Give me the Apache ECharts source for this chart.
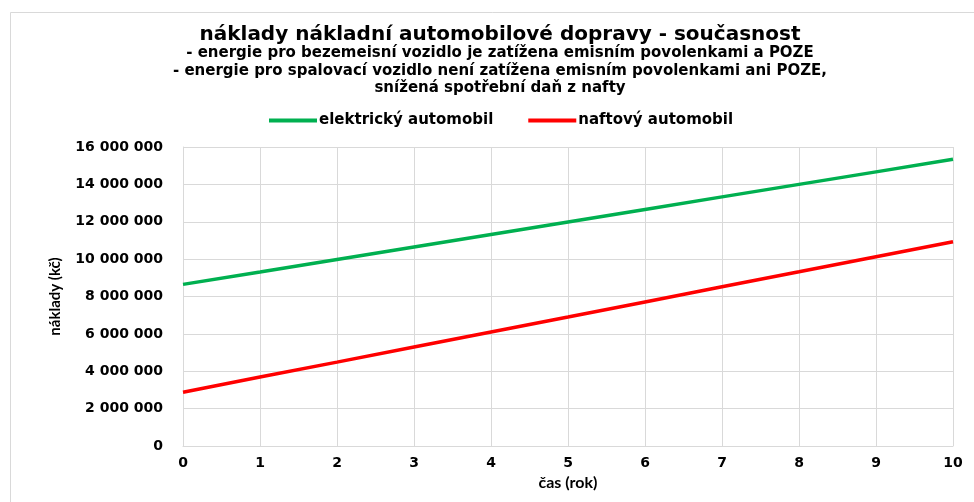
<!DOCTYPE html>
<html>
<head>
<meta charset="utf-8">
<script src="https://cdn.jsdelivr.net/npm/echarts@6/dist/echarts.min.js"></script>
<style>
html,body{margin:0;padding:0;background:#fff;}
#chart{width:974px;height:502px;}
</style>
</head>
<body>
<div id="chart"></div>
<script>
const years = [0, 1, 2, 3, 4, 5, 6, 7, 8, 9, 10];
const electric = [8650000, 9310000, 9980000, 10650000, 11320000, 11990000, 12660000, 13330000, 14000000, 14670000, 15340000];
const diesel = [2880000, 3690000, 4490000, 5300000, 6100000, 6900000, 7710000, 8520000, 9320000, 10130000, 10930000];
const seriesNames = ['elektrický automobil', 'naftový automobil'];
const titleLines = [
  'náklady nákladní automobilové dopravy - současnost',
  '- energie pro bezemeisní vozidlo je zatížena emisním povolenkami a POZE',
  '- energie pro spalovací vozidlo není zatížena emisním povolenkami ani POZE,',
  'snížená spotřební daň z nafty'
];
const xAxisName = 'čas (rok)';
const yAxisName = 'náklady (kč)';

const chart = echarts.init(document.getElementById('chart'), null, {renderer: 'canvas'});
const fmt = v => String(Math.round(v)).replace(/\B(?=(\d{3})+(?!\d))/g, ' ');
const mainFont = '"DejaVu Sans", Verdana, sans-serif';
const narrowFont = '"Liberation Sans Narrow", Lato, "Open Sans", sans-serif';

const option = {
  backgroundColor: '#ffffff',
  animation: false,
  graphic: [
    {type: 'rect', silent: true, z: -10, shape: {x: 10.5, y: 12.5, width: 1000, height: 600},
     style: {fill: '#ffffff', stroke: '#d9d9d9', lineWidth: 1}},
    {type: 'text', x: 500, y: 35, style: {text: titleLines[0], textAlign: 'center', textVerticalAlign: 'middle',
      font: 'bold 20px ' + mainFont, fill: '#000'}},
    {type: 'text', x: 500, y: 53, style: {text: titleLines[1], textAlign: 'center', textVerticalAlign: 'middle',
      font: 'bold 15px ' + mainFont, fill: '#000'}},
    {type: 'text', x: 500, y: 71, style: {text: titleLines[2], textAlign: 'center', textVerticalAlign: 'middle',
      font: 'bold 15px ' + mainFont, fill: '#000'}},
    {type: 'text', x: 500, y: 88, style: {text: titleLines[3], textAlign: 'center', textVerticalAlign: 'middle',
      font: 'bold 15px ' + mainFont, fill: '#000'}}
  ],
  legend: {
    left: 269, top: 113, padding: 0,
    icon: 'rect', itemWidth: 48, itemHeight: 4, itemGap: 35,
    textStyle: {fontFamily: mainFont, fontWeight: 'bold', fontSize: 15, color: '#000', padding: [0,0,0,-3]},
    data: seriesNames
  },
  grid: {left: 183, right: 21, top: 147, bottom: 56, containLabel: false},
  xAxis: {
    type: 'value', min: 0, max: 10, interval: 1,
    name: xAxisName, nameLocation: 'middle', nameGap: 28,
    nameTextStyle: {fontFamily: narrowFont, fontWeight: 'bold', fontSize: 16, color: '#000'},
    axisLine: {show: true, lineStyle: {color: '#d9d9d9', width: 1}},
    axisTick: {show: false},
    axisLabel: {fontFamily: mainFont, fontWeight: 'bold', fontSize: 14, color: '#000', margin: 10},
    splitLine: {show: true, lineStyle: {color: '#d9d9d9', width: 1}}
  },
  yAxis: {
    type: 'value', min: 0, max: 16000000, interval: 2000000,
    name: yAxisName, nameLocation: 'middle', nameGap: 120, nameRotate: 90,
    nameTextStyle: {fontFamily: narrowFont, fontWeight: 'bold', fontSize: 15, color: '#000'},
    axisLine: {show: true, lineStyle: {color: '#d9d9d9', width: 1}},
    axisTick: {show: false},
    axisLabel: {fontFamily: mainFont, fontWeight: 'bold', fontSize: 14, color: '#000', margin: 20, formatter: fmt},
    splitLine: {show: true, lineStyle: {color: '#d9d9d9', width: 1}}
  },
  series: [
    {name: seriesNames[0], type: 'line', symbol: 'none', color: '#00b050',
     lineStyle: {width: 3.5, color: '#00b050'},
     data: years.map((x, i) => [x, electric[i]])},
    {name: seriesNames[1], type: 'line', symbol: 'none', color: '#ff0000',
     lineStyle: {width: 3.5, color: '#ff0000'},
     data: years.map((x, i) => [x, diesel[i]])}
  ]
};
chart.setOption(option);
</script>
</body>
</html>
